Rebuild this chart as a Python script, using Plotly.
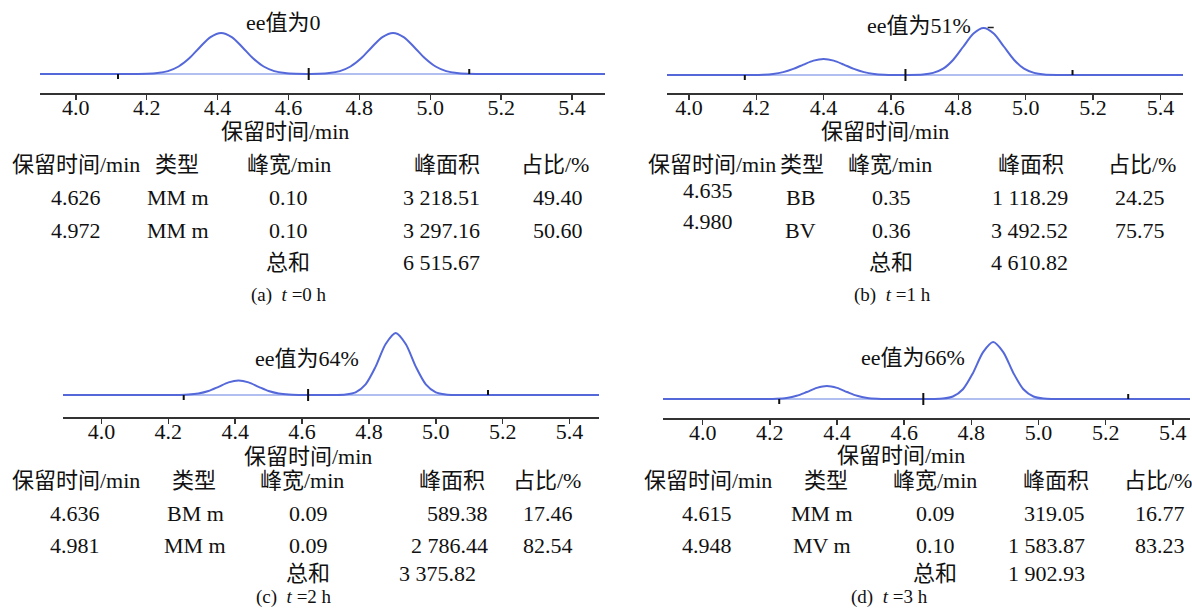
import plotly.graph_objects as go

OFF = 0
W, H = 1192, 608
FONT = "Liberation Serif, Noto Sans CJK SC, serif"
CURVE = "rgb(84,104,218)"
BASE = "rgb(150,168,235)"
TXT = "#111111"
FS = 22

# ---------------- shared labels ----------------
tick_vals = [4.0, 4.2, 4.4, 4.6, 4.8, 5.0, 5.2, 5.4]
tick_text = ["4.0", "4.2", "4.4", "4.6", "4.8", "5.0", "5.2", "5.4"]
x_title = "保留时间/min"
headers = ["保留时间/min", "类型", "峰宽/min", "峰面积", "占比/%"]
sum_label = "总和"

# ---------------- panel (a) t = 0 h ----------------
ee_a = "ee值为0"
cap_a = "(a)\u00a0\u00a0<i>t</i>\u00a0=0\u00a0h"
sig_x_a = [3.899, 4.00, 4.10, 4.17, 4.20, 4.23, 4.26, 4.29, 4.32, 4.35, 4.38, 4.41, 4.44, 4.47,
           4.50, 4.53, 4.56, 4.59, 4.62, 4.65, 4.685, 4.715, 4.745, 4.775, 4.805, 4.835, 4.865,
           4.895, 4.925, 4.955, 4.985, 5.015, 5.045, 5.075, 5.105, 5.15, 5.20, 5.30, 5.40, 5.493]
sig_y_a = [0, 0, 0, 0.05, 0.2, 0.9, 2.9, 7.5, 15.7, 26.8, 36.9, 41.0, 36.9, 26.8,
           15.7, 7.5, 2.9, 0.9, 0.2, 0.05, 0.2, 0.9, 2.9, 7.5, 15.7, 26.8, 36.9,
           41.0, 36.9, 26.8, 15.7, 7.5, 2.9, 0.9, 0.2, 0, 0, 0, 0, 0]
marks_a = [4.119, 4.657, 5.110]
rt_a = ["4.626", "4.972"]
type_a = ["MM m", "MM m"]
width_a = ["0.10", "0.10"]
area_a = ["3 218.51", "3 297.16"]
pct_a = ["49.40", "50.60"]
total_a = "6 515.67"

# ---------------- panel (b) t = 1 h ----------------
ee_b = "ee值为51%"
cap_b = "(b)\u00a0\u00a0<i>t</i>\u00a0=1\u00a0h"
sig_x_b = [3.935, 4.00, 4.10, 4.16, 4.19, 4.22, 4.25, 4.28, 4.31, 4.34, 4.37, 4.40, 4.43, 4.46,
           4.49, 4.52, 4.55, 4.58, 4.61, 4.65, 4.695, 4.725, 4.755, 4.785, 4.815, 4.845, 4.875,
           4.905, 4.935, 4.965, 4.995, 5.025, 5.055, 5.10, 5.20, 5.30, 5.40, 5.467]
sig_y_b = [0, 0, 0, 0.02, 0.09, 0.35, 1.1, 2.9, 6.1, 10.4, 14.4, 16.0, 14.4, 10.4,
           6.1, 2.9, 1.1, 0.35, 0.09, 0.05, 0.5, 2.1, 6.3, 15.3, 28.5, 41.5, 47.0,
           41.5, 28.5, 15.3, 6.3, 2.1, 0.5, 0.05, 0, 0, 0, 0]
marks_b = [4.166, 4.643, 5.139]
apex_b = [4.875]
rt_b = ["4.635", "4.980"]
type_b = ["BB", "BV"]
width_b = ["0.35", "0.36"]
area_b = ["1 118.29", "3 492.52"]
pct_b = ["24.25", "75.75"]
total_b = "4 610.82"

# ---------------- panel (c) t = 2 h ----------------
ee_c = "ee值为64%"
cap_c = "(c)\u00a0\u00a0<i>t</i>\u00a0=2\u00a0h"
sig_x_c = [3.885, 4.00, 4.10, 4.20, 4.23, 4.26, 4.29, 4.32, 4.35, 4.38, 4.41, 4.44, 4.47, 4.50,
           4.53, 4.56, 4.59, 4.65, 4.70, 4.73, 4.76, 4.79, 4.82, 4.85, 4.88, 4.91, 4.94, 4.97,
           5.00, 5.03, 5.06, 5.12, 5.20, 5.30, 5.40, 5.488]
sig_y_c = [0, 0, 0, 0, 0.1, 0.4, 1.5, 4.0, 8.2, 12.6, 14.5, 12.6, 8.2, 4.0,
           1.5, 0.4, 0.1, 0, 0, 0.5, 2.7, 10.7, 28.4, 51.0, 62.0, 51.0, 28.4, 10.7,
           2.7, 0.5, 0, 0, 0, 0, 0, 0]
marks_c = [4.246, 4.618, 5.156]
rt_c = ["4.636", "4.981"]
type_c = ["BM m", "MM m"]
width_c = ["0.09", "0.09"]
area_c = ["589.38", "2 786.44"]
pct_c = ["17.46", "82.54"]
total_c = "3 375.82"

# ---------------- panel (d) t = 3 h ----------------
ee_d = "ee值为66%"
cap_d = "(d)\u00a0\u00a0<i>t</i>\u00a0=3\u00a0h"
sig_x_d = [3.882, 4.00, 4.10, 4.19, 4.22, 4.25, 4.28, 4.31, 4.34, 4.37, 4.40, 4.43, 4.46, 4.49,
           4.52, 4.55, 4.58, 4.65, 4.685, 4.715, 4.745, 4.775, 4.805, 4.835, 4.865, 4.895,
           4.925, 4.955, 4.985, 5.015, 5.045, 5.10, 5.20, 5.30, 5.40, 5.451]
sig_y_d = [0, 0, 0, 0.05, 0.3, 1.1, 3.2, 7.0, 11.1, 13.0, 11.1, 7.0, 3.2, 1.1,
           0.3, 0.05, 0, 0, 0.05, 0.4, 2.5, 9.8, 26.1, 46.9, 57.0, 46.9,
           26.1, 9.8, 2.5, 0.4, 0.05, 0, 0, 0, 0, 0]
marks_d = [4.228, 4.657, 5.267]
rt_d = ["4.615", "4.948"]
type_d = ["MM m", "MV m"]
width_d = ["0.09", "0.10"]
area_d = ["319.05", "1 583.87"]
pct_d = ["16.77", "83.23"]
total_d = "1 902.93"

# ---------------- layout geometry (reference pixels) ----------------
panels = [
    dict(sx=sig_x_a, sy=sig_y_a, marks=marks_a, ee=ee_a, cap=cap_a,
         rt=rt_a, tp=type_a, wd=width_a, ar=area_a, pc=pct_a, tot=total_a,
         xdom=(40, 605), xr=(3.899, 5.493), axis=93, base=74, top=18,
         ee_pos=(283, 23), xt_pos=(285, 131),
         hx=[75.6, 177, 289, 447, 555], hy=165,
         rtx=75.6, rty=[198, 230], tx=178, wx=288, ax_r=482, px=558, ry=[198, 230],
         sy_=262, tot_r=482, cap_pos=(289, 295)),
    dict(sx=sig_x_b, sy=sig_y_b, marks=marks_b, ee=ee_b, cap=cap_b,
         rt=rt_b, tp=type_b, wd=width_b, ar=area_b, pc=pct_b, tot=total_b,
         xdom=(667, 1183), xr=(3.935, 5.467), axis=93, base=75, top=18,
         ee_pos=(919, 25), xt_pos=(885, 131),
         hx=[712, 802, 890, 1031, 1142], hy=165,
         rtx=708, rty=[190, 222], tx=800, wx=891, ax_r=1070, px=1140, ry=[198, 230],
         sy_=262, tot_r=1070, cap_pos=(892, 295)),
    dict(sx=sig_x_c, sy=sig_y_c, marks=marks_c, ee=ee_c, cap=cap_c,
         rt=rt_c, tp=type_c, wd=width_c, ar=area_c, pc=pct_c, tot=total_c,
         xdom=(63, 599), xr=(3.885, 5.488), axis=417, base=395, top=322,
         ee_pos=(307, 358), xt_pos=(308, 456),
         hx=[75.6, 194, 302, 452, 547], hy=480,
         rtx=75, rty=[513, 545], tx=195, wx=308, ax_r=490, px=548, ry=[513, 545],
         sy_=573, tot_r=478, cap_pos=(294, 597)),
    dict(sx=sig_x_d, sy=sig_y_d, marks=marks_d, ee=ee_d, cap=cap_d,
         rt=rt_d, tp=type_d, wd=width_d, ar=area_d, pc=pct_d, tot=total_d,
         xdom=(663, 1190), xr=(3.882, 5.451), axis=418, base=399, top=327,
         ee_pos=(913, 357), xt_pos=(901, 455),
         hx=[708, 826, 935, 1056, 1158], hy=480,
         rtx=707, rty=[513, 545], tx=822, wx=935, ax_r=1087, px=1160, ry=[513, 545],
         sy_=573, tot_r=1087, cap_pos=(890, 597)),
]

mark_off = [(-5, 0), (-6, 6), (0, 5)]


def fx(px):
    return (px - OFF) / W


def fy(py):
    return 1 - (py - OFF) / H


def ann(text, px, py, anchor="center", size=FS):
    return dict(text=text, x=fx(px), y=fy(py), xref="paper", yref="paper",
                xanchor=anchor, yanchor="middle", showarrow=False,
                font=dict(family=FONT, size=size, color=TXT))


fig = go.Figure()
annotations = []
layout_axes = {}
for i, p in enumerate(panels):
    n = "" if i == 0 else str(i + 1)
    xa, ya = "x" + n, "y" + n
    fig.add_trace(go.Scatter(x=[p["xr"][0], p["xr"][1]], y=[0, 0], mode="lines",
                             line=dict(color=BASE, width=1.5), xaxis=xa, yaxis=ya,
                             hoverinfo="skip"))
    fig.add_trace(go.Scatter(x=p["sx"], y=p["sy"], mode="lines",
                             line=dict(color=CURVE, width=2, shape="spline", smoothing=0.8),
                             xaxis=xa, yaxis=ya, hoverinfo="skip"))
    mx, my = [], []
    for t, (lo, hi) in zip(p["marks"], mark_off):
        mx += [t, t, None]
        my += [lo, hi, None]
    fig.add_trace(go.Scatter(x=mx, y=my, mode="lines", line=dict(color="#111", width=2),
                             xaxis=xa, yaxis=ya, hoverinfo="skip"))

    layout_axes["xaxis" + n] = dict(
        domain=[max(0.0, fx(p["xdom"][0])), min(1.0, fx(p["xdom"][1]))], range=list(p["xr"]),
        anchor=ya, showline=True, linecolor="#333", linewidth=1.5, ticks="outside", ticklen=5,
        tickwidth=1.5, tickcolor="#333", tickvals=tick_vals, ticktext=tick_text,
        tickfont=dict(family=FONT, size=FS, color=TXT), ticklabelstandoff=-11,
        showgrid=False, zeroline=False, fixedrange=True)
    layout_axes["yaxis" + n] = dict(
        domain=[fy(p["axis"]), fy(p["top"])], range=[-(p["axis"] - p["base"]), p["base"] - p["top"]],
        anchor=xa, visible=False, showgrid=False, zeroline=False, fixedrange=True)

    annotations.append(ann(p["ee"], *p["ee_pos"]))
    annotations.append(ann(x_title, *p["xt_pos"]))
    for h, hx in zip(headers, p["hx"]):
        annotations.append(ann(h, hx, p["hy"]))
    for r in range(2):
        annotations.append(ann(p["rt"][r], p["rtx"], p["rty"][r]))
        annotations.append(ann(p["tp"][r], p["tx"], p["ry"][r]))
        annotations.append(ann(p["wd"][r], p["wx"], p["ry"][r]))
        annotations.append(ann(p["ar"][r], p["ax_r"], p["ry"][r], anchor="right"))
        annotations.append(ann(p["pc"][r], p["px"], p["ry"][r]))
    annotations.append(ann(sum_label, p["wx"], p["sy_"]))
    annotations.append(ann(p["tot"], p["tot_r"], p["sy_"], anchor="right"))
    annotations.append(ann(p["cap"], *p["cap_pos"], size=19))

# small apex tick on the main peak of panel (b)
fig.add_trace(go.Scatter(x=[apex_b[0] + 0.012, apex_b[0] + 0.03], y=[47.5, 47.5], mode="lines",
                         line=dict(color="#222", width=1.5), xaxis="x2", yaxis="y2",
                         hoverinfo="skip"))

fig.update_layout(width=W, height=H, margin=dict(l=0, r=0, t=0, b=0),
                  paper_bgcolor="white", plot_bgcolor="white", showlegend=False,
                  annotations=annotations, **layout_axes)

fig.write_html("out.html", config={"displayModeBar": False, "staticPlot": True},
               post_script="document.body.style.margin='0';document.body.style.overflow='hidden';")
